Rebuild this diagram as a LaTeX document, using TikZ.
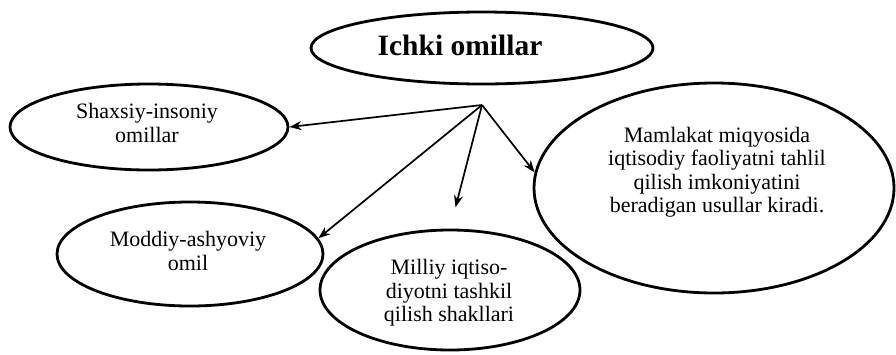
\documentclass[tikz,border=0pt]{standalone}
\usepackage{fontspec}
\setmainfont{Liberation Serif}
\usetikzlibrary{shapes.geometric,arrows.meta}
\begin{document}
\begin{tikzpicture}[x=1pt,y=-1pt,
  oval/.style={draw=black,line width=2.8pt,ellipse,inner sep=0pt},
  lbl/.style={align=center,inner sep=0pt,font=\fontsize{22}{23.5}\selectfont},
  arr/.style={draw=black,line width=1.7pt,-{Stealth[length=12pt,width=9pt]}}]
\useasboundingbox (0,0) rectangle (896,354);
% ellipses
\node[oval,minimum width=342pt,minimum height=72pt] (top) at (482,48) {};
\node[oval,minimum width=278pt,minimum height=86pt] (shax) at (149,127) {};
\node[oval,minimum width=266pt,minimum height=104pt] (mod) at (190,254) {};
\node[oval,minimum width=260pt,minimum height=120pt] (mil) at (450,290) {};
\node[oval,minimum width=360pt,minimum height=210pt] (mam) at (714,188) {};
% texts
\node[inner sep=0pt,font=\fontsize{29.5}{31}\selectfont\bfseries] (ttop) at (460,45) {Ichki omillar};
\node[lbl] (tshax) at (147,123) {Shaxsiy-insoniy\\omillar};
\node[lbl] (tmod) at (188,251) {Moddiy-ashyoviy\\omil};
\node[lbl] (tmil) at (449,293) {Milliy iqtiso-\\diyotni tashkil\\qilish shakllari};
\node[lbl] (tmam) at (717,172) {Mamlakat miqyosida\\iqtisodiy faoliyatni tahlil\\qilish imkoniyatini\\beradigan usullar kiradi.};
% connectors
\coordinate (hub) at (482,105);
\draw[arr] (hub) -- (shax.east);
\draw[arr] (hub) -- (mod.7);
\draw[arr,shorten >=22pt] (hub) -- (mil.north);
\draw[arr] (hub) -- (mam.175);
\end{tikzpicture}
\end{document}
